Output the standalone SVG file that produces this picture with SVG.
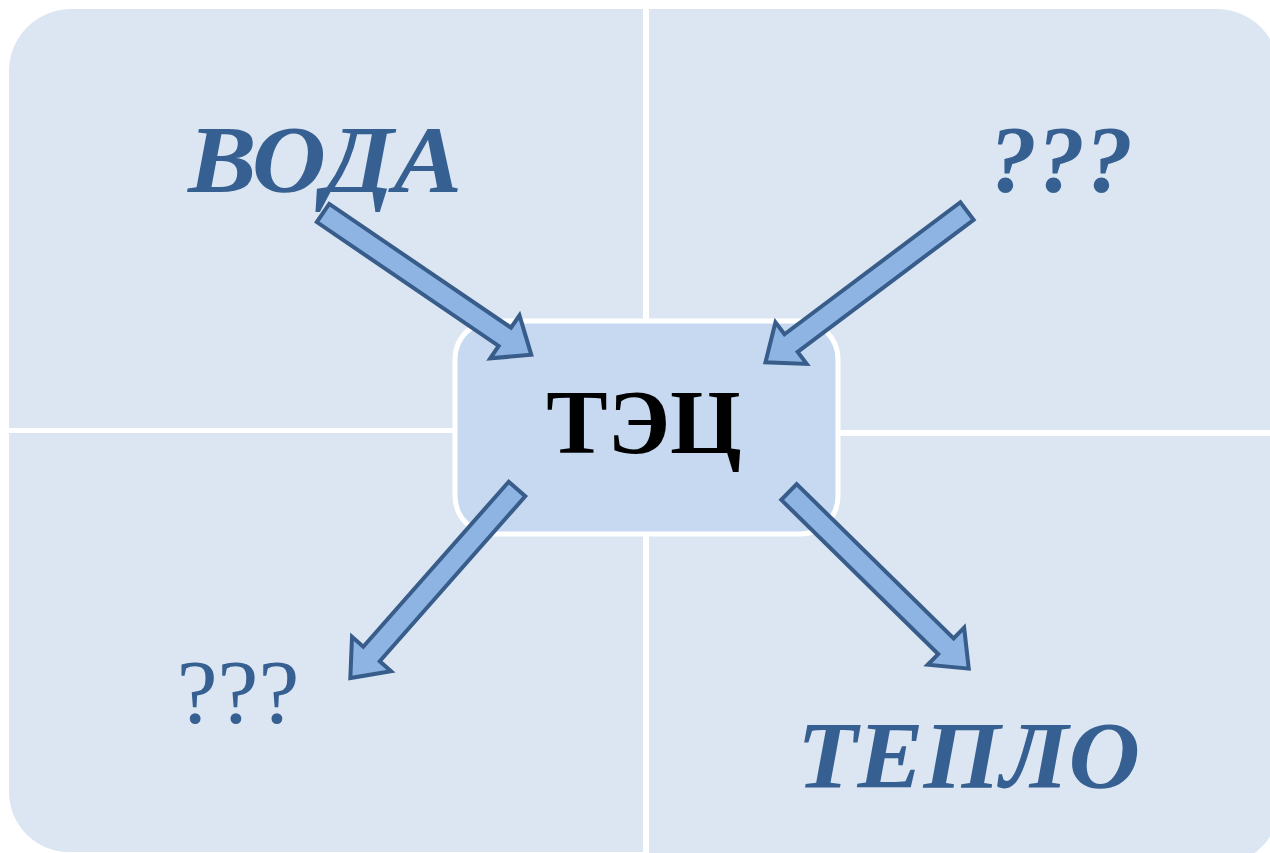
<svg xmlns="http://www.w3.org/2000/svg" width="1270" height="853" viewBox="0 0 1270 853">
  <defs>
    <style>
      .quad { fill: #DCE6F2; }
      .hub { fill: #C6D9F0; stroke: #FFFFFF; stroke-width: 5; }
      .hub-label { font-family: "Liberation Serif", "Times New Roman", serif; font-weight: bold; font-size: 92px; fill: #000000; text-anchor: middle; }
      .label { font-family: "Liberation Serif", "Times New Roman", serif; fill: #376092; }
      .bi { font-weight: bold; font-style: italic; font-size: 96px; }
      .plain { font-size: 92px; }
      .arrow { fill: #8EB4E3; stroke: #385D8A; stroke-width: 4; stroke-linejoin: miter; }
    </style>
    <!-- block arrow pointing along +x, tail at origin, length 252 -->
    <path id="blockArrow" d="M0,-11 L220,-11 L220,-26 L252,0 L220,26 L220,11 L0,11 Z"/>
  </defs>

  <rect width="1270" height="853" fill="#FFFFFF"/>

  <!-- four quadrants, rounded only at the outer corners -->
  <g id="quadrants">
    <path class="quad" d="M9,71 A62,62 0 0 1 71,9 L643,9 L643,428 L9,428 Z"/>
    <path class="quad" d="M649,9 L1217,9 A62,62 0 0 1 1279,71 L1279,430 L649,430 Z"/>
    <path class="quad" d="M9,433 L643,433 L643,852 L69,852 A60,60 0 0 1 9,792 Z"/>
    <path class="quad" d="M649,436 L1280,436 L1280,803 A62,62 0 0 1 1218,865 L649,865 Z"/>
  </g>

  <g id="node-water">
    <text class="label bi" x="188" y="192" textLength="274" lengthAdjust="spacingAndGlyphs">ВОДА</text>
  </g>
  <g id="node-input-unknown">
    <text class="label bi" x="1061" y="192" text-anchor="middle">???</text>
  </g>
  <g id="node-output-unknown">
    <text class="label plain" x="238" y="723" text-anchor="middle">???</text>
  </g>
  <g id="node-heat">
    <text class="label bi" x="797" y="788" textLength="343" lengthAdjust="spacingAndGlyphs">ТЕПЛО</text>
  </g>

  <g id="node-chp">
    <rect class="hub" x="455" y="321" width="383" height="213" rx="38" ry="38"/>
    <text class="hub-label" x="644" y="453">ТЭЦ</text>
  </g>

  <g id="connectors">
    <use href="#blockArrow" class="arrow" transform="translate(323,213) rotate(34.25)"/>
    <use href="#blockArrow" class="arrow" transform="translate(967,211) rotate(143.1)"/>
    <use href="#blockArrow" class="arrow" transform="translate(517,489) rotate(131.4)"/>
    <use href="#blockArrow" class="arrow" transform="translate(789,492) rotate(44.5)"/>
  </g>
</svg>
